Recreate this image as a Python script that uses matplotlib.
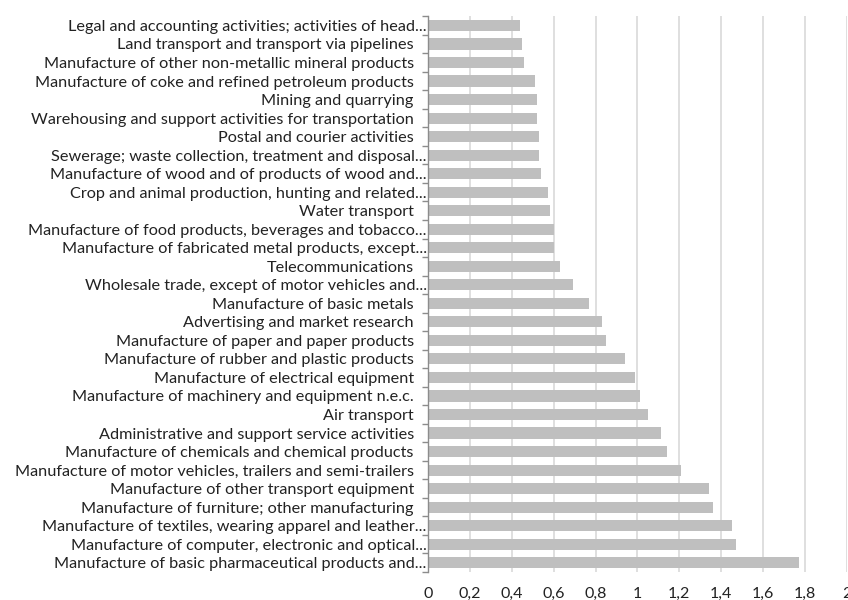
import matplotlib
matplotlib.use("Agg")
import matplotlib.pyplot as plt
from matplotlib.ticker import FixedLocator, FuncFormatter
from matplotlib.transforms import ScaledTranslation
import numpy as np

# Sectors listed top to bottom as they appear in the chart
sectors = [
    "Legal and accounting activities; activities of head...",
    "Land transport and transport via pipelines",
    "Manufacture of other non-metallic mineral products",
    "Manufacture of coke and refined petroleum products",
    "Mining and quarrying",
    "Warehousing and support activities for transportation",
    "Postal and courier activities",
    "Sewerage; waste collection, treatment and disposal...",
    "Manufacture of wood and of products of wood and...",
    "Crop and animal production, hunting and related...",
    "Water transport",
    "Manufacture of food products, beverages and tobacco...",
    "Manufacture of fabricated metal products, except...",
    "Telecommunications",
    "Wholesale trade, except of motor vehicles and...",
    "Manufacture of basic metals",
    "Advertising and market research",
    "Manufacture of paper and paper products",
    "Manufacture of rubber and plastic products",
    "Manufacture of electrical equipment",
    "Manufacture of machinery and equipment n.e.c.",
    "Air transport",
    "Administrative and support service activities",
    "Manufacture of chemicals and chemical products",
    "Manufacture of motor vehicles, trailers and semi-trailers",
    "Manufacture of other transport equipment",
    "Manufacture of furniture; other manufacturing",
    "Manufacture of textiles, wearing apparel and leather...",
    "Manufacture of computer, electronic and optical...",
    "Manufacture of basic pharmaceutical products and...",
]

values = [
    0.44, 0.45, 0.46, 0.51, 0.52, 0.52, 0.53, 0.53, 0.54, 0.57,
    0.58, 0.60, 0.60, 0.63, 0.69, 0.77, 0.83, 0.85, 0.94, 0.99,
    1.01, 1.05, 1.11, 1.14, 1.21, 1.34, 1.36, 1.45, 1.47, 1.77,
]

x_ticks = [0, 0.2, 0.4, 0.6, 0.8, 1.0, 1.2, 1.4, 1.6, 1.8, 2.0]

plt.rcParams["font.family"] = ["Lato", "DejaVu Sans"]

fig = plt.figure(figsize=(8.48, 6.0), dpi=100)
ax = fig.add_axes([0.505, 0.0467, 0.4935, 0.9263])

n = len(sectors)
pos = np.arange(n)
ax.barh(pos, values, height=0.6, color="#bfbfbf", zorder=2)

ax.set_ylim(n - 0.5, -0.5)
ax.set_xlim(0, 2)

# Vertical gridlines and comma-decimal value axis
ax.xaxis.set_major_locator(FixedLocator(x_ticks))
ax.xaxis.set_major_formatter(FuncFormatter(
    lambda v, p: ("%g" % round(v, 1)).replace(".", ",")))
ax.grid(axis="x", color="#d9d9d9", linewidth=1.2, zorder=0)
ax.tick_params(axis="x", length=0, pad=11, labelsize=11.5, labelcolor="#222222")

# Category labels with boundary tick marks on the left spine
ax.set_yticks(pos)
ax.set_yticklabels(sectors)
ax.tick_params(axis="y", which="major", length=0, pad=1, labelsize=11.7,
               labelcolor="#222222")
ax.set_yticks(np.arange(-0.5, n, 1.0), minor=True)
ax.tick_params(axis="y", which="minor", length=4, width=1, color="#8c8c8c")

# Full-length names sit a little further from the axis than truncated ones
shift = ScaledTranslation(-13 / 100, 0, fig.dpi_scale_trans)
for lbl in ax.get_yticklabels():
    if not lbl.get_text().endswith("..."):
        lbl.set_transform(lbl.get_transform() + shift)

for side in ("top", "right", "bottom"):
    ax.spines[side].set_visible(False)
ax.spines["left"].set_color("#8c8c8c")
ax.spines["left"].set_linewidth(1)
ax.spines["left"].set_zorder(3)

fig.savefig("out.png", dpi=100)
